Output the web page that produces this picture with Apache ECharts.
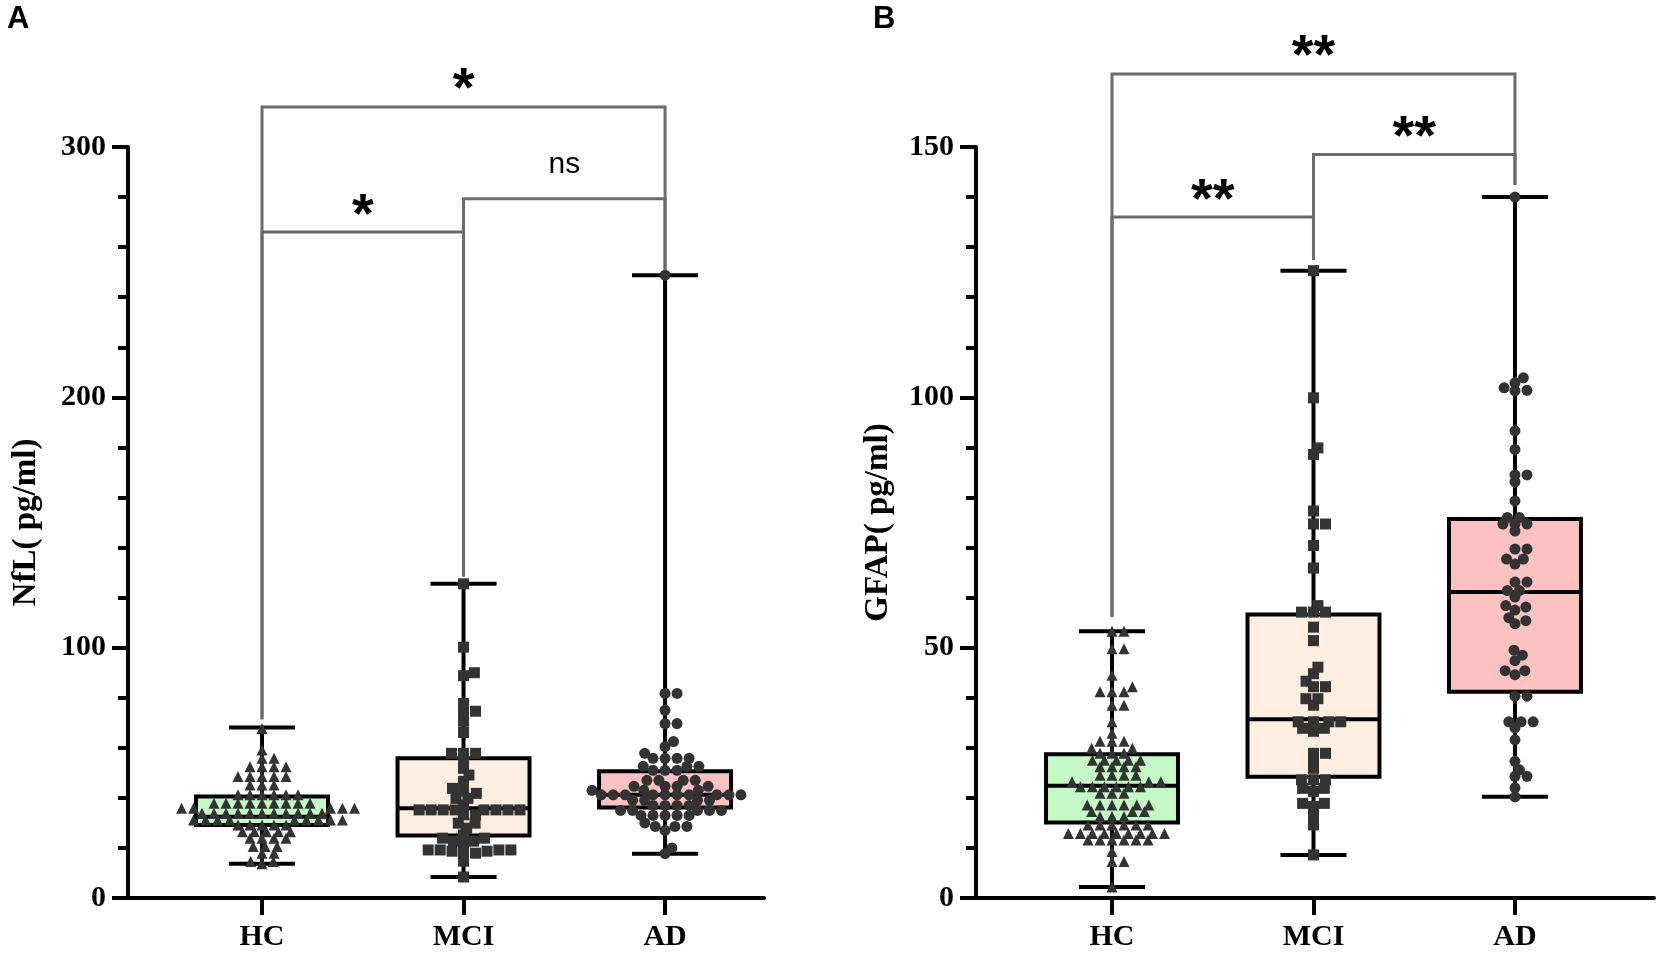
<!DOCTYPE html>
<html>
<head>
<meta charset="utf-8">
<script src="https://cdn.jsdelivr.net/npm/echarts@6/dist/echarts.min.js"></script>
<style>
  html, body { margin: 0; padding: 0; background: #fff; }
  #chart { width: 100vw; height: 100vh; }
</style>
</head>
<body>
<div id="chart"></div>
<script>
// groups on the x axis
var categories = ['HC', 'MCI', 'AD'];

// Panel A: NfL (pg/ml)
var nflHC = [67.7, 59.1, 55.8, 55.8, 52.4, 52.4, 52.4, 52.4, 48.5, 48.5, 48.5, 48.5, 48.5,
  45.1, 45.1, 45.1, 41.2, 41.2, 41.2, 41.2, 41.2, 41.2,
  37.8, 37.8, 37.8, 37.8, 37.8, 37.8, 37.8, 37.8, 37.8, 35.9, 35.9, 35.9, 35.9, 35.9,
  33.9, 33.9, 33.9, 33.9, 33.9, 33.9, 33.9, 33.9, 33.9, 33.9, 33.9,
  31.2, 31.2, 31.2, 31.2, 31.2, 31.2, 31.2, 31.2, 31.2, 29.2, 29.2, 29.2, 29.2, 29.2,
  26.5, 26.5, 26.5, 26.5, 26.5, 23.9, 23.9, 23.9, 23.9, 20.6, 20.6, 20.6,
  17.9, 17.9, 14.6, 14.6, 13.7];
var nflMCI = [125.5, 100.2, 90, 88.8, 77.7, 74.6, 74.6, 70.6, 66.1, 57.8, 57.8, 57.8, 54.6,
  51.8, 49.1, 46.6, 43.8, 42.7, 41.8, 39.8, 39.8, 37.2,
  35.2, 35.2, 35.2, 35.2, 35.2, 35.2, 35.2, 35.2, 33.2, 33.2, 29.9, 29.9, 27.9, 25.2,
  23.9, 23.9, 22.7, 22.7, 21.2, 19.2, 19.2, 19.2, 19.2, 18.7, 18.7, 17.9, 17.9, 14.7, 8.4];
var nflAD = [248.8, 81.7, 81.7, 75, 69.7, 69.7, 62.5, 60.5, 57.8, 55.8, 55.8, 55.8, 55.8,
  52.6, 52.6, 52.6, 51, 51, 51, 47, 47, 47, 47, 44.6, 44.6, 44.6, 44.6, 43, 43, 43,
  41.2, 41.2, 41.2, 41.2, 41.2, 41.2, 41.2, 41.2, 41.2, 41.2, 39, 39, 39, 39,
  37, 37, 37, 37, 35, 35, 35, 35, 35, 33, 33, 33, 33, 33, 30, 28.6, 28.6, 28.6, 27, 20, 17.7];
// [min, q1, median, q3, max]
var nflBox = [[13.7, 29.2, 32.5, 40.5, 68.1], [8.4, 25, 35.9, 55.8, 125.5], [17.7, 36.2, 41.2, 50.6, 248.8]];
// [from group, to group, bracket height, drop end at from, drop end at to]
var nflBrackets = [[0, 2, 316, 71.4, 251], [0, 1, 266, 71.4, 128.4], [1, 2, 279.3, 128.4, 251]];
var nflMarks = ['*', '*', 'ns'];

// Panel B: GFAP (pg/ml)
var gfapHC = [53.3, 53.3, 49.8, 49.8, 44.5, 42.2, 41.2, 41.2, 41.2, 38.5, 38.5, 35.2, 32.9,
  31.3, 31.3, 31.3, 29.9, 29.9, 28.9, 28.9, 28.9, 27.5, 27.5, 27.5, 27.5, 27.5,
  26.2, 26.2, 26.2, 26.2, 24.5, 24.5, 24.5, 24.5, 23.2, 23.2, 23.2,
  22.2, 22.2, 22.2, 22.2, 22.2, 22.2, 20.9, 20.9, 20.9, 18.6, 18.6, 18.6, 18.6, 18.6, 18.6,
  17.3, 17.3, 17.3, 16.3, 16.3, 16.3, 14.6, 14.6, 14.6, 14.6, 14.6, 14.6,
  12.9, 12.9, 12.9, 12.9, 12.9, 12.9, 12.9, 12.9, 12.9, 11.6, 11.6, 11.6, 11.6, 11.6, 11.6,
  9.3, 7.3, 7.3, 2.2];
var gfapMCI = [125.3, 99.9, 89.9, 88.6, 77.3, 74.7, 74.7, 70.4, 65.9, 58.4, 57.1, 57.1, 57.1,
  54.1, 51.4, 46.1, 44.8, 43.3, 42.2, 42.2, 39.8, 39.8, 38.5, 35.2, 35.2, 35.2, 35.2,
  33.9, 33.9, 33.3, 28.9, 28.9, 27.5, 25.9, 23.6, 23.6, 23.6, 21.9, 21.9, 21.3,
  18.9, 18.9, 18.3, 16.6, 14.6, 8.6];
var gfapAD = [140, 103.9, 102.9, 101.9, 101.4, 101.3, 93.3, 89.6, 84.5, 84.5, 83.1, 79.3, 76, 76,
  74.7, 74.7, 74.7, 73.3, 69.7, 69.7, 67.7, 67.7, 66.7, 63.1, 63.1, 61.4, 61.4, 60.1,
  58.4, 58.1, 57.5, 56, 55.4, 54.8, 49.5, 48.5, 47.4, 45.4, 45.4, 44.6, 40.3, 40.3,
  35.2, 35.2, 35.2, 34, 31.6, 27.3, 25.6, 24.3, 24.3, 22, 20.2];
var gfapBox = [[2.2, 15.1, 22.4, 28.7, 53.3], [8.6, 24.2, 35.7, 56.6, 125.3], [20.2, 41.2, 61.1, 75.7, 140]];
var gfapBrackets = [[0, 2, 164.6, 56.2, 142.4], [0, 1, 136, 56.2, 127.5], [1, 2, 148.5, 127.5, 142.4]];
var gfapMarks = ['**', '**', '**'];

var boxColors = ['#c4f8c4', '#fdeee2', '#fcc2c2'];
var symbols = ['triangle', 'rect', 'circle'];

var dom = document.getElementById('chart');
var myChart = echarts.init(dom, null, { renderer: 'canvas' });

var W = myChart.getWidth(), H = myChart.getHeight();
var TOP = 147, BOTTOM = 61;
var panels = [
  { left: 128, right: W - 764, xmin: -0.665, xmax: 2.491, ymax: 300, interval: 100, minor: 5,
    name: 'NfL( pg/ml)', nameGap: 85, letter: 'A', letterX: 7,
    groups: [nflHC, nflMCI, nflAD], box: nflBox, brackets: nflBrackets, marks: nflMarks },
  { left: 976, right: 5, xmin: -0.675, xmax: 2.69, ymax: 150, interval: 50, minor: 5,
    name: 'GFAP( pg/ml)', nameGap: 81, letter: 'B', letterX: 873,
    groups: [gfapHC, gfapMCI, gfapAD], box: gfapBox, brackets: gfapBrackets, marks: gfapMarks }
];

var serif = 'Liberation Serif';
var BOX_HALF = 0.3275, CAP_HALF = 0.164;
var GAP_X = 12, GAP_Y = 7;   // marker footprint for the swarm, px

// beeswarm: each point goes to the free spot nearest the centre line
// (points may overlap vertically a bit, like the original plot)
function swarm(values, group, yPx, xPx) {
  var sorted = values.slice().sort(function (a, b) { return a - b; });
  var placed = [];
  var pts = [];
  sorted.forEach(function (v) {
    var y = v * yPx;
    var near = placed.filter(function (q) { return Math.abs(q[1] - y) < GAP_Y; });
    var cands = [0];
    near.forEach(function (q) {
      var t = (q[1] - y) / GAP_Y;
      var dx = GAP_X * Math.sqrt(1 - t * t);
      cands.push(q[0] + dx + 0.01, q[0] - dx - 0.01);
    });
    cands.sort(function (a, b) { return Math.abs(a) - Math.abs(b) || b - a; });
    var x = 0;
    for (var i = 0; i < cands.length; i++) {
      var c = cands[i];
      var ok = near.every(function (q) {
        var dx = (q[0] - c) / GAP_X, dy = (q[1] - y) / GAP_Y;
        return dx * dx + dy * dy >= 0.999;
      });
      if (ok) { x = c; break; }
    }
    placed.push([x, y]);
    pts.push([group + x / xPx, v]);
  });
  return pts;
}

function renderBox(params, api) {
  var i = api.value(0);
  var pMin = api.coord([i, api.value(1)]);
  var pMax = api.coord([i, api.value(5)]);
  var q1 = api.coord([i - BOX_HALF, api.value(2)]);
  var q3 = api.coord([i + BOX_HALF, api.value(4)]);
  var med = api.coord([i, api.value(3)]);
  var capL = api.coord([i - CAP_HALF, 0])[0];
  var capR = api.coord([i + CAP_HALF, 0])[0];
  var line = { stroke: '#000', lineWidth: 4 };
  return {
    type: 'group',
    children: [
      { type: 'line', shape: { x1: pMin[0], y1: pMin[1], x2: pMax[0], y2: pMax[1] }, style: line },
      { type: 'line', shape: { x1: capL, y1: pMin[1], x2: capR, y2: pMin[1] }, style: line },
      { type: 'line', shape: { x1: capL, y1: pMax[1], x2: capR, y2: pMax[1] }, style: line },
      { type: 'rect', shape: { x: q1[0], y: q3[1], width: q3[0] - q1[0], height: q1[1] - q3[1] },
        style: { fill: boxColors[params.dataIndex], stroke: '#000', lineWidth: 4 } },
      { type: 'line', shape: { x1: q1[0], y1: med[1], x2: q3[0], y2: med[1] }, style: line }
    ]
  };
}

function bracketRenderer(marks) {
  return function (params, api) {
    var a = api.value(0), b = api.value(1), h = api.value(2);
    var p1 = api.coord([a, api.value(3)]);
    var p2 = api.coord([a, h]);
    var p3 = api.coord([b, h]);
    var p4 = api.coord([b, api.value(4)]);
    var txt = marks[params.dataIndex];
    var star = txt.indexOf('*') >= 0;
    return {
      type: 'group',
      children: [
        { type: 'polyline', shape: { points: [p1, p2, p3, p4] },
          style: { stroke: '#6b6b6b', lineWidth: 3, fill: null } },
        { type: 'text', x: (p2[0] + p3[0]) / 2, y: p2[1] - (star ? 16 : 34),
          style: { text: txt, fill: '#000', align: 'center', verticalAlign: 'middle',
            fontFamily: 'Liberation Sans', fontWeight: star ? 'bold' : 'normal',
            fontSize: star ? 56 : 30 } }
      ]
    };
  };
}

var option = { animation: false, backgroundColor: '#fff', title: [], grid: [], xAxis: [], yAxis: [], series: [] };

panels.forEach(function (p, k) {
  var gridW = W - p.left - p.right;
  var xPx = gridW / (p.xmax - p.xmin);
  var yPx = (H - TOP - BOTTOM) / p.ymax;

  option.title.push({ text: p.letter, left: p.letterX, top: 4, padding: 0,
    textStyle: { fontFamily: 'Liberation Sans', fontWeight: 'bold', fontSize: 31, color: '#000' } });
  option.grid.push({ left: p.left, right: p.right, top: TOP, bottom: BOTTOM, containLabel: false });
  option.xAxis.push({
    gridIndex: k, type: 'value', min: p.xmin, max: p.xmax,
    axisLine: { show: true, onZero: false, lineStyle: { color: '#000', width: 4 } },
    axisTick: { show: true, customValues: [0, 1, 2], length: 17, lineStyle: { color: '#000', width: 4 } },
    axisLabel: { show: true, customValues: [0, 1, 2], margin: 24,
      formatter: function (v) { return categories[Math.round(v)] || ''; },
      fontFamily: serif, fontWeight: 'bold', fontSize: 30, color: '#000' },
    splitLine: { show: false }
  });
  option.yAxis.push({
    gridIndex: k, type: 'value', min: 0, max: p.ymax, interval: p.interval,
    name: p.name, nameLocation: 'middle', nameGap: p.nameGap,
    nameTextStyle: { fontFamily: serif, fontWeight: 'bold', fontSize: 33, color: '#000' },
    axisLine: { show: true, onZero: false, lineStyle: { color: '#000', width: 4 } },
    axisTick: { show: true, length: 16, lineStyle: { color: '#000', width: 4 } },
    minorTick: { show: true, splitNumber: p.minor, length: 10, lineStyle: { color: '#000', width: 4 } },
    axisLabel: { margin: 22, fontFamily: serif, fontWeight: 'bold', fontSize: 30, color: '#000' },
    splitLine: { show: false }
  });

  option.series.push({
    type: 'custom', xAxisIndex: k, yAxisIndex: k, z: 1,
    renderItem: bracketRenderer(p.marks),
    data: p.brackets
  });
  option.series.push({
    type: 'custom', xAxisIndex: k, yAxisIndex: k, z: 2,
    renderItem: renderBox,
    data: p.box.map(function (b, i) { return [i].concat(b); })
  });
  p.groups.forEach(function (vals, g) {
    option.series.push({
      type: 'scatter', xAxisIndex: k, yAxisIndex: k, z: 3,
      symbol: symbols[g], symbolSize: 11,
      itemStyle: { color: '#333333', opacity: 1 },
      data: swarm(vals, g, yPx, xPx)
    });
  });
});

if (option && typeof option === 'object') {
  myChart.setOption(option);
}

window.addEventListener('resize', myChart.resize);
</script>
</body>
</html>
